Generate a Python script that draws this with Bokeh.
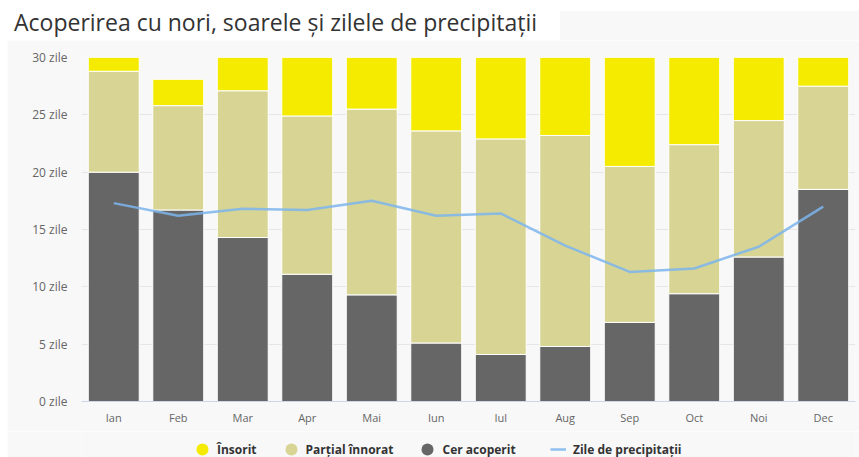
from bokeh.plotting import figure
from bokeh.layouts import column, row
from bokeh.models import Range1d, Legend, LegendItem, FixedTicker, ColumnDataSource, Div
from bokeh.embed import file_html
from bokeh.resources import INLINE

months = ["Ian", "Feb", "Mar", "Apr", "Mai", "Iun", "Iul", "Aug", "Sep", "Oct", "Noi", "Dec"]
overcast = [20.0, 16.7, 14.3, 11.1, 9.3, 5.1, 4.1, 4.8, 6.9, 9.4, 12.6, 18.5]
partly = [8.8, 9.1, 12.8, 13.8, 16.2, 18.5, 18.8, 18.4, 13.6, 13.0, 11.9, 9.0]
sunny = [2.2, 2.3, 3.9, 5.1, 5.5, 6.4, 8.1, 7.8, 9.5, 8.7, 5.5, 3.5]
precip = [17.3, 16.2, 16.8, 16.7, 17.5, 16.2, 16.4, 13.6, 11.3, 11.6, 13.5, 17.0]
y_ticks = [0, 5, 10, 15, 20, 25, 30]
y_tick_labels = ["0 zile", "5 zile", "10 zile", "15 zile", "20 zile", "25 zile", "30 zile"]

title_text = "Acoperirea cu nori, soarele și zilele de precipitații"
series_keys = ["overcast", "partly", "sunny"]
series_colors = ["#666666", "#d8d494", "#f5eb00"]
line_name = "Zile de precipitații"
line_color = "#7cb5ec"
bg = "#f8f8f8"
font = "Open Sans"

source = ColumnDataSource(data=dict(months=months, overcast=overcast, partly=partly,
                                    sunny=sunny, precip=precip))

# title strip (white box behind the title, grey panel to its right)
title_div = Div(
    width=852, height=40, margin=0,
    styles={"background-color": "white"},
    text=(
        '<div style="position:relative;width:852px;height:40px;">'
        f'<div style="position:absolute;left:553px;top:11px;right:0;bottom:0;background:{bg};"></div>'
        f'<span style="position:absolute;left:7px;top:11px;white-space:nowrap;'
        f'font-family:\'{font}\';font-size:23px;line-height:23px;color:#333333;">'
        f'{title_text}</span></div>'
    ),
)

p = figure(width=852, height=391, x_range=months, y_range=Range1d(0, 30),
           output_backend="svg", toolbar_location=None,
           min_border_left=74, min_border_right=4, min_border_top=17, min_border_bottom=30,
           background_fill_color=bg, border_fill_color=bg, outline_line_color=None)

p.vbar_stack(series_keys, x="months", width=0.79, source=source, color=series_colors,
             line_color="white", line_width=1)
p.line(x="months", y="precip", source=source, line_color=line_color, line_width=2.5, line_alpha=0.85)

p.yaxis.ticker = FixedTicker(ticks=y_ticks)
p.yaxis.major_label_overrides = {t: l for t, l in zip(y_ticks, y_tick_labels)}
p.yaxis.axis_line_color = None
p.yaxis.major_tick_line_color = None
p.yaxis.minor_tick_line_color = None
p.yaxis.major_tick_out = 0
p.yaxis.major_label_standoff = 14
p.yaxis.major_label_text_font = font
p.yaxis.major_label_text_font_size = "12px"
p.yaxis.major_label_text_color = "#666666"

p.xaxis.axis_line_color = "#ccd6eb"
p.xaxis.major_tick_line_color = None
p.xaxis.minor_tick_line_color = None
p.xaxis.major_tick_out = 0
p.xaxis.major_tick_in = 0
p.xaxis.major_label_standoff = 8
p.xaxis.major_label_text_font = font
p.xaxis.major_label_text_font_size = "11px"
p.xaxis.major_label_text_color = "#666666"

p.xgrid.grid_line_color = None
p.ygrid.grid_line_color = "#e6e6e6"

# legend strip as its own small figure; its key glyphs use the series data,
# which lies outside this strip's (negative) ranges, so only the legend shows
pl = figure(width=852, height=26, x_range=Range1d(-2, -1), y_range=Range1d(-2, -1),
            output_backend="svg", toolbar_location=None,
            x_axis_location=None, y_axis_location=None,
            min_border=0, background_fill_color=bg, border_fill_color=bg,
            outline_line_color=None)
pl.grid.visible = False
r_sun = pl.scatter(x="sunny", y="sunny", source=source, marker="circle",
                   fill_color=series_colors[2], line_color=None)
r_part = pl.scatter(x="partly", y="partly", source=source, marker="circle",
                    fill_color=series_colors[1], line_color=None)
r_over = pl.scatter(x="overcast", y="overcast", source=source, marker="circle",
                    fill_color=series_colors[0], line_color=None)
r_line = pl.line(x="precip", y="precip", source=source, line_color=line_color,
                 line_width=2.5, line_alpha=0.85)

common = dict(orientation="horizontal", padding=0, margin=0, glyph_height=30,
              label_height=12, label_text_font=font, label_text_font_size="12px",
              label_text_font_style="bold", label_text_color="#333333",
              border_line_color=None, background_fill_alpha=0)
legend_bars = Legend(items=[LegendItem(label="Însorit", renderers=[r_sun]),
                            LegendItem(label="Parțial înnorat", renderers=[r_part]),
                            LegendItem(label="Cer acoperit", renderers=[r_over])],
                     location=(106, -7), spacing=19, label_standoff=0, glyph_width=30,
                     **common)
legend_line = Legend(items=[LegendItem(label=line_name, renderers=[r_line])],
                     location=(469, -7), spacing=0, label_standoff=7, glyph_width=16,
                     **common)
pl.add_layout(legend_bars, "center")
pl.add_layout(legend_line, "center")

layout = row(Div(width=7, height=457, margin=0, styles={"background-color": "white"}),
             column(title_div, p, pl, spacing=0), spacing=0)
open("out.html", "w").write(file_html(layout, INLINE))
